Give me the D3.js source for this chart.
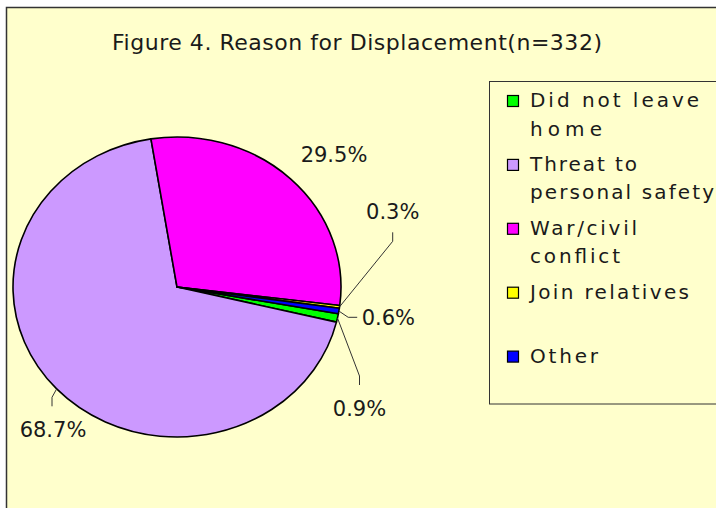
<!DOCTYPE html>
<html><head><meta charset="utf-8">
<script src="https://cdn.jsdelivr.net/npm/d3@7"></script>
<style>body{margin:0;background:#fff}svg{display:block}text{font-family:"DejaVu Sans",Verdana,sans-serif;fill:#1a1a1a}</style>
</head><body><svg id="c" width="716" height="508"></svg>
<script>
// ---- data ----
const categories = ["Did not leave home", "Threat to personal safety", "War/civil conflict", "Join relatives", "Other"];
const values = [0.9, 68.7, 29.5, 0.3, 0.6];
const legendLines = [["Did not leave", "home"], ["Threat to", "personal safety"], ["War/civil", "conflict"], ["Join relatives"], ["Other"]];
const colors = ["#00FF00", "#CC99FF", "#FF00FF", "#FFFF00", "#0000FF"];
const titleText = "Figure 4. Reason for Displacement(n=332)";

// ---- layout (not data) ----
const W = 716, H = 508;
const cx = 177, cy = 287, rx = 164, ry = 150;
const startDeg = 100.3;
const labelLayout = [
  {x: 359.5, y: 416, leader: "below"},
  {x: 53, y: 437.3, leader: "below"},
  {x: 334, y: 162, leader: "none"},
  {x: 392.7, y: 219.3, leader: "above"},
  {x: 361.7, y: 325, leader: "left"}
];
const legendWidths = [[169, 72], [107, 184], [107, 90], [159], [68]];

const svg = d3.select("#c");
// chart area
svg.append("rect").attr("x", 6.5).attr("y", 7.5).attr("width", 800).attr("height", 600)
  .attr("fill", "#FFFFCC").attr("stroke", "#333").attr("stroke-width", 1.5);

// title
svg.append("text").attr("x", 112).attr("y", 50).attr("font-size", 22)
  .attr("textLength", 490).attr("lengthAdjust", "spacing").text(titleText);

// pie
const pie = d3.pie().sort(null).value(d => d)
  .startAngle(startDeg * Math.PI / 180).endAngle((startDeg + 360) * Math.PI / 180);
const arcs = pie(values);
const arc = d3.arc().innerRadius(0).outerRadius(ry);
const g = svg.append("g").attr("transform", `translate(${cx},${cy}) scale(${rx / ry},1)`);
g.selectAll("path").data(arcs).join("path")
  .attr("d", arc).attr("fill", (d, i) => colors[i])
  .attr("stroke", "#000").attr("stroke-width", 1.6).attr("stroke-linejoin", "round")
  .attr("vector-effect", "non-scaling-stroke");

// labels & leaders
const fmt = v => v.toFixed(1) + "%";
arcs.forEach((d, i) => {
  const L = labelLayout[i];
  const a = (d.startAngle + d.endAngle) / 2;
  const px = cx + rx * Math.sin(a), py = cy - ry * Math.cos(a);
  let pts = null;
  if (L.leader === "above") pts = [[px, py], [L.x, L.y + 22], [L.x, L.y + 13]];
  if (L.leader === "below") pts = [[px, py], [L.x - (i === 1 ? 1 : 0), L.y - 40], [L.x - (i === 1 ? 1 : 0), L.y - 31]];
  if (L.leader === "left") pts = [[px, py], [L.x - 13.5, L.y - 7.7], [L.x - 4.5, L.y - 7.7]];
  if (pts) svg.append("path").attr("d", d3.line()(pts)).attr("fill", "none")
    .attr("stroke", "#333").attr("stroke-width", 1);
  svg.append("text").attr("x", L.x).attr("y", L.y).attr("font-size", 21)
    .attr("text-anchor", L.leader === "left" ? "start" : "middle").text(fmt(values[i]));
});

// legend
svg.append("rect").attr("x", 489.5).attr("y", 81.5).attr("width", 300).attr("height", 322.5)
  .attr("fill", "#FFFFCC").attr("stroke", "#333").attr("stroke-width", 1);
const lg = svg.append("g");
categories.forEach((c, i) => {
  const y0 = 95 + i * 63.9;
  lg.append("rect").attr("x", 507.5).attr("y", y0 + 0.5).attr("width", 11).attr("height", 11)
    .attr("fill", colors[i]).attr("stroke", "#000").attr("stroke-width", 1.2);
  legendLines[i].forEach((line, j) => {
    lg.append("text").attr("x", 530).attr("y", y0 + 12 + j * 28.5).attr("font-size", 20)
      .attr("textLength", legendWidths[i][j]).attr("lengthAdjust", "spacing").text(line);
  });
});
</script></body></html>
